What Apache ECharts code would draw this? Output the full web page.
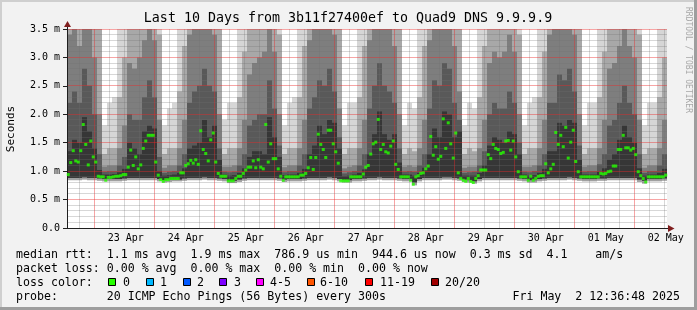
<!DOCTYPE html>
<html><head><meta charset="utf-8">
<script src="https://cdn.jsdelivr.net/npm/echarts@6/dist/echarts.min.js"></script>
<style>html,body{margin:0;padding:0;background:#f2f2f2}#c{width:697px;height:310px}</style>
</head><body><div id="c"></div>
<script>
// ---- data ----
const startHour = 13; // first hourly slot starts 22 Apr 13:00
const dayLabels = ['22 Apr','23 Apr','24 Apr','25 Apr','26 Apr','27 Apr','28 Apr','29 Apr','30 Apr','01 May','02 May'];

// median rtt (ms), one value per hour (240)
const median = [
0.94,1.15,1.36,1.18,1.16,1.36,1.82,1.47,1.11,1.53,
1.25,1.16,0.91,0.90,0.90,0.84,0.89,0.89,0.90,0.91,
0.91,0.92,0.94,0.94,1.07,1.37,1.10,1.25,1.04,1.11,
1.40,1.53,1.63,1.63,1.63,1.16,0.93,0.85,0.82,0.85,
0.85,0.87,0.87,0.87,0.87,0.97,0.97,1.10,1.13,1.19,
1.14,1.20,1.12,1.71,1.38,1.31,1.18,1.55,1.67,1.16,
0.96,0.91,0.91,0.91,0.83,0.83,0.83,0.87,0.91,0.91,
0.96,1.02,1.07,1.07,1.18,1.06,1.20,1.07,1.04,1.82,
1.16,1.48,1.22,1.22,1.04,0.91,0.84,0.90,0.90,0.90,
0.90,0.90,0.90,0.93,0.93,0.96,1.06,1.24,1.03,1.24,
1.65,1.47,1.38,1.24,1.72,1.72,1.48,1.34,1.14,0.83,
0.83,0.83,0.83,0.90,0.90,0.90,0.90,0.90,0.95,1.07,
1.10,1.30,1.48,1.51,1.91,1.38,1.47,1.34,1.32,1.44,
1.53,1.12,1.03,0.90,0.90,0.90,0.90,0.84,0.77,0.90,
0.92,0.96,0.97,1.04,1.09,1.61,1.28,1.43,1.21,1.26,
1.92,1.40,1.85,1.48,1.23,1.67,0.97,0.87,0.84,0.82,
0.87,0.82,0.80,0.87,0.92,1.02,1.02,1.02,1.29,1.22,
1.47,1.40,1.38,1.31,1.33,1.53,1.54,1.37,1.53,1.25,
0.99,0.90,0.90,0.90,0.84,0.91,0.84,0.87,0.91,0.92,
0.92,1.13,0.97,1.04,1.12,1.68,1.47,1.63,1.43,1.77,
1.23,1.51,1.72,1.17,0.99,0.90,0.90,0.90,0.90,0.90,
0.90,0.90,0.90,0.96,0.95,0.96,0.99,1.00,1.09,1.09,
1.38,1.38,1.63,1.41,1.41,1.37,1.40,1.29,0.99,0.92,
0.87,0.81,0.90,0.90,0.90,0.90,0.90,0.90,0.90,0.93
];

// smoke (ping distribution), one column per 2 hours (120)
const smokeMin = [
.84,.84,.84,.85,.84,.84,.83,.82,.82,.82,.82,.83,
.84,.84,.84,.84,.84,.84,.82,.80,.81,.82,.82,.83,
.84,.84,.84,.85,.84,.84,.83,.82,.79,.79,.81,.83,
.84,.84,.84,.84,.84,.84,.83,.81,.82,.82,.82,.83,
.84,.84,.84,.84,.85,.84,.82,.80,.80,.82,.82,.83,
.84,.84,.85,.84,.84,.84,.83,.82,.82,.75,.82,.84,
.84,.84,.84,.85,.85,.84,.83,.81,.80,.78,.82,.84,
.84,.84,.84,.84,.84,.84,.83,.82,.80,.80,.82,.83,
.84,.84,.84,.84,.85,.84,.83,.82,.82,.82,.83,.83,
.84,.84,.84,.84,.84,.84,.81,.78,.82,.82,.82,.83
];
const smokeLowMid = [
.88,.88,.88,.89,.88,.88,.87,.86,.86,.86,.86,.87,
.88,.88,.88,.88,.88,.88,.86,.84,.85,.85,.85,.87,
.88,.88,.88,.89,.88,.88,.87,.86,.83,.83,.85,.87,
.88,.88,.88,.88,.88,.88,.87,.85,.86,.86,.86,.87,
.88,.88,.88,.88,.89,.88,.86,.84,.84,.86,.86,.87,
.88,.88,.89,.88,.88,.88,.87,.86,.86,.80,.86,.88,
.88,.88,.88,.89,.89,.88,.87,.85,.84,.82,.86,.88,
.88,.88,.88,.88,.88,.88,.87,.86,.84,.84,.86,.87,
.88,.88,.88,.88,.89,.88,.87,.86,.86,.86,.87,.87,
.88,.88,.88,.88,.88,.88,.85,.83,.86,.86,.86,.87
];
const smokeQ1 = [
1.35,1.55,1.5,1.95,1.7,1.4,1.02,.94,.94,.95,.98,1.04,
1.5,1.4,1.3,1.7,1.8,1.75,1.0,.92,.93,.94,.97,1.05,
1.4,1.45,1.5,1.9,1.6,1.8,1.2,.94,.92,.93,.97,1.05,
1.25,1.35,1.35,1.3,1.95,1.6,1.25,.93,.94,.94,.97,1.04,
1.3,1.45,1.8,1.65,1.9,1.85,1.4,.91,.92,.94,.97,1.03,
1.3,1.65,2.05,1.65,1.55,1.65,1.15,.94,.94,.92,.97,1.06,
1.3,1.75,1.6,2.05,2.0,1.6,1.7,.92,.92,.92,.97,1.1,
1.45,1.6,1.55,1.5,1.7,1.65,1.3,.94,.92,.93,.97,1.04,
1.35,1.35,1.85,1.8,1.9,1.85,1.2,.94,.94,.94,.99,1.05,
1.2,1.3,1.55,1.8,1.6,1.5,1.05,.92,.94,.94,.97,1.04
];
const smokeQ2 = [
2.2,2.4,2.2,2.8,2.5,2.0,1.3,.99,1.0,1.0,1.1,1.25,
2.0,1.9,1.9,2.3,2.6,2.3,1.25,.97,.99,1.0,1.1,1.3,
2.2,2.4,2.5,2.8,2.5,2.4,1.4,.99,.98,.99,1.1,1.3,
1.8,1.9,2.0,2.0,2.6,2.1,1.45,.98,1.0,1.0,1.1,1.3,
2.1,2.3,2.6,2.5,2.8,2.4,1.6,.96,.98,1.0,1.1,1.3,
2.1,2.5,2.9,2.5,2.4,2.2,1.4,.99,1.0,.99,1.1,1.3,
2.1,2.6,2.5,2.9,2.8,2.2,1.9,.97,.98,.99,1.1,1.35,
2.0,2.2,2.1,2.1,2.4,2.2,1.5,.99,.98,1.0,1.1,1.3,
2.2,2.2,2.7,2.6,2.8,2.4,1.45,.99,1.0,1.0,1.12,1.3,
1.8,1.9,2.2,2.5,2.2,2.0,1.3,.97,1.0,1.0,1.1,1.3
];
const smokeQ3 = [
3.4,3.6,3.2,3.8,3.6,3.0,2.0,1.08,1.1,1.1,1.4,1.8,
2.9,2.8,3.0,3.3,3.7,3.3,1.9,1.06,1.1,1.1,1.4,1.9,
3.4,3.6,3.8,4.0,3.7,3.4,2.0,1.08,1.08,1.1,1.4,1.9,
2.7,2.9,3.0,3.1,3.6,3.1,2.0,1.07,1.1,1.1,1.4,1.9,
3.3,3.6,3.8,3.7,4.0,3.4,2.1,1.05,1.08,1.1,1.4,1.9,
3.3,3.7,4.0,3.7,3.6,3.2,2.0,1.08,1.1,1.08,1.4,1.9,
3.3,3.8,3.7,4.0,4.0,3.2,2.4,1.06,1.08,1.08,1.4,1.9,
2.9,3.1,3.0,3.1,3.4,3.1,2.0,1.08,1.08,1.1,1.4,1.9,
3.4,3.5,3.9,3.8,4.0,3.4,2.0,1.08,1.1,1.1,1.4,1.9,
2.8,2.9,3.2,3.5,3.2,3.0,1.9,1.06,1.1,1.1,1.4,1.9
];
const smokeQ4 = [
4.5,5,4.5,5,5,4.2,3.6,1.3,1.4,1.4,2.3,3.0,
4,3.8,4,4.5,5,4.5,3.4,1.3,1.4,1.4,2.4,3.2,
5,5,5,6,5,4.6,3.5,1.3,1.4,1.4,2.3,3.1,
3.8,4,4.2,4.4,5,4.3,3.4,1.3,1.4,1.4,2.3,3.2,
5,5,5,5,6,4.6,3.5,1.3,1.4,1.4,2.3,3.2,
5,5,6,5,5,4.5,3.5,1.3,1.4,1.35,2.3,3.2,
5,5,5,6,6,4.5,3.6,1.3,1.4,1.35,2.3,3.2,
4,4.3,4.2,4.4,4.8,4.3,3.4,1.3,1.4,1.4,2.3,3.1,
5,5,5,5,6,4.6,3.5,1.3,1.4,1.4,2.3,3.1,
4,4,4.5,4.8,4.5,4.2,3.4,1.3,1.4,1.4,2.3,3.0
];
const smokeQ5 = [
6,7,6,7,7,6,5,1.8,2.2,2.3,4.5,5,
6,6,6,6,7,6,5,1.8,2.1,2.2,4.5,5,
7,7,7,8,7,6,5,1.9,2.2,2.2,4.5,5,
6,6,6,6,7,6,5,1.8,2.2,2.3,4.5,5,
7,7,7,7,8,6,5,1.8,2.2,2.2,4.5,5,
7,7,8,7,7,6,5,1.8,2.2,2.1,4.5,5,
7,7,7,8,8,6,5,1.8,2.2,2.1,4.5,5,
6,6,6,6,6,6,5,1.8,2.2,2.3,4.5,5,
7,7,7,7,8,6,5,1.8,2.2,2.2,4.5,5,
6,6,6,6,6,6,5,1.8,2.2,2.2,4.5,5
];

const titleText = 'Last 10 Days from 3b11f27400ef to Quad9 DNS 9.9.9.9';
const legendRows = [
  'median rtt:  1.1 ms avg  1.9 ms max  786.9 us min  944.6 us now  0.3 ms sd  4.1    am/s',
  'packet loss: 0.00 % avg  0.00 % max  0.00 % min  0.00 % now',
  'loss color:',
  'probe:       20 ICMP Echo Pings (56 Bytes) every 300s'
];
const lossLabels = ['0','1','2','3','4-5','6-10','11-19','20/20'];
const lossColors = ['#26ff00','#00b8ff','#0059ff','#7e00ff','#ff00ff','#ff5500','#ff0000','#a10000'];
const timestampText = 'Fri May  2 12:36:48 2025';

// ---- chart ----
const FONT = '"DejaVu Sans Mono", monospace';
const hourCats = median.map((_, i) => i);
const slotCats = smokeMin.map((_, i) => i);
const yMajor = [0.5, 1, 1.5, 2, 2.5, 3, 3.5];
const yMinor = [];
for (let k = 1; k < 35; k++) if (k % 5 !== 0) yMinor.push(k / 10);
// vertical grid positions: every 6 hours (minor) and midnight (major)
const vGrid = hourCats.filter(i => (startHour + i) % 6 === 0)
  .map(i => [i, (startHour + i) % 24 === 0 ? 1 : 0]);
const lossSquareX = [108, 146, 183, 219, 256, 307, 365, 431];
const lossTextX = [123, 160, 197, 234, 270, 320, 380, 445];

const MINOR = 'rgba(110,110,110,0.28)';
const MAJOR = 'rgba(235,40,40,0.42)';

function barSeries(name, data, color) {
  return {
    name, type: 'bar', data, xAxisIndex: 1, yAxisIndex: 0,
    barGap: '-100%', barCategoryGap: '0%', clip: true, silent: true,
    itemStyle: { color }, z: 2
  };
}

const graphics = [
  { type: 'rect', shape: { x: 0, y: 0, width: 697, height: 2 }, style: { fill: '#cfcfcf' }, silent: true },
  { type: 'rect', shape: { x: 0, y: 0, width: 2, height: 310 }, style: { fill: '#cfcfcf' }, silent: true },
  { type: 'rect', shape: { x: 0, y: 307, width: 697, height: 3 }, style: { fill: '#9e9e9e' }, silent: true },
  { type: 'rect', shape: { x: 694, y: 0, width: 3, height: 310 }, style: { fill: '#9e9e9e' }, silent: true },
  { type: 'text', x: 348, y: 19, style: { text: titleText, font: '13.3px ' + FONT, fill: '#000', textAlign: 'center', textVerticalAlign: 'middle' } },
  { type: 'text', x: 688, y: 60, rotation: -Math.PI / 2, style: { text: 'RRDTOOL / TOBI OETIKER', font: '8px ' + FONT, fill: '#a8a8a8', textAlign: 'center', textVerticalAlign: 'middle' } },
  { type: 'text', x: 11, y: 129, rotation: Math.PI / 2, style: { text: 'Seconds', font: '11px ' + FONT, fill: '#000', textAlign: 'center', textVerticalAlign: 'middle' } },
  { type: 'line', shape: { x1: 67.5, y1: 24, x2: 67.5, y2: 29 }, style: { stroke: '#1f1f1f', lineWidth: 1 }, z: 20 },
  { type: 'polygon', shape: { points: [[64, 27], [71, 27], [67.5, 21]] }, style: { fill: '#801f1f' }, z: 20 },
  { type: 'line', shape: { x1: 666, y1: 228.5, x2: 669, y2: 228.5 }, style: { stroke: '#1f1f1f', lineWidth: 1 }, z: 20 },
  { type: 'polygon', shape: { points: [[668, 225], [668, 232], [674.5, 228.5]] }, style: { fill: '#801f1f' }, z: 20 }
];
const rowY = [255, 269, 283, 297];
legendRows.forEach((t, k) => {
  graphics.push({ type: 'text', x: 16, y: rowY[k], style: { text: t, font: '11.6px ' + FONT, fill: '#000', textAlign: 'left', textVerticalAlign: 'middle' } });
});
lossLabels.forEach((t, k) => {
  graphics.push({ type: 'rect', shape: { x: lossSquareX[k] + 0.5, y: 278.5, width: 7, height: 7 }, style: { fill: lossColors[k], stroke: '#000', lineWidth: 1 } });
  graphics.push({ type: 'text', x: lossTextX[k], y: 283, style: { text: t, font: '11.6px ' + FONT, fill: '#000', textAlign: 'left', textVerticalAlign: 'middle' } });
});
graphics.push({ type: 'text', x: 680, y: 297, style: { text: timestampText, font: '11.6px ' + FONT, fill: '#000', textAlign: 'right', textVerticalAlign: 'middle' } });

function gridLine(x1, y1, x2, y2, color) {
  return { type: 'line', shape: { x1, y1, x2, y2 }, style: { stroke: color, lineWidth: 1 } };
}

const option = {
  animation: false,
  backgroundColor: '#f2f2f2',
  grid: { left: 67, right: 30, top: 29, bottom: 82, show: true, backgroundColor: '#ffffff', borderWidth: 0 },
  xAxis: [
    {
      type: 'category', data: hourCats, position: 'bottom', boundaryGap: true, z: 10,
      axisLine: { show: true, lineStyle: { color: '#1f1f1f', width: 1 } },
      axisTick: { show: false },
      axisLabel: {
        interval: (i) => (startHour + i) % 24 === 12,
        formatter: (v) => dayLabels[Math.floor((startHour + Number(v)) / 24)],
        fontFamily: FONT, fontSize: 10, color: '#000', margin: 5
      },
      splitLine: { show: false }
    },
    { type: 'category', data: slotCats, show: false, position: 'bottom', boundaryGap: true }
  ],
  yAxis: {
    type: 'value', min: 0, max: 3.5, interval: 0.5, z: 10,
    axisLine: { show: true, lineStyle: { color: '#1f1f1f', width: 1 } },
    axisTick: { show: true, length: 4, lineStyle: { color: '#1f1f1f' } },
    axisLabel: {
      formatter: (v) => v === 0 ? '0.0' : v.toFixed(1) + ' m',
      fontFamily: FONT, fontSize: 10, color: '#000', margin: 7
    },
    splitLine: { show: false }
  },
  graphic: graphics,
  series: [
    barSeries('q5', smokeQ5, '#d6d6d6'),
    barSeries('q4', smokeQ4, '#a8a8a8'),
    barSeries('q3', smokeQ3, '#7e7e7e'),
    barSeries('q2', smokeQ2, '#595959'),
    barSeries('q1', smokeQ1, '#363636'),
    barSeries('lowmid', smokeLowMid, '#a0a0a0'),
    barSeries('min', smokeMin, '#ffffff'),
    {
      name: 'vgrid', type: 'custom', data: vGrid, xAxisIndex: 0, yAxisIndex: 0,
      silent: true, z: 11, clip: false,
      renderItem: (params, api) => {
        const i = api.value(0);
        const major = api.value(1) === 1;
        const x0 = api.coord([i, 0])[0] - api.size([1, 0])[0] / 2;
        const x = Math.floor(x0) + 0.5;
        const cs = params.coordSys;
        return gridLine(x, cs.y, x, cs.y + cs.height, major ? MAJOR : MINOR);
      }
    },
    {
      name: 'hgrid', type: 'custom', xAxisIndex: 0, yAxisIndex: 0,
      data: yMinor.map(v => [0, v, 0]).concat(yMajor.map(v => [0, v, 1])),
      silent: true, z: 11, clip: false,
      renderItem: (params, api) => {
        const v = api.value(1);
        const major = api.value(2) === 1;
        const y = Math.floor(api.coord([0, v])[1]) + 0.5;
        const cs = params.coordSys;
        return gridLine(cs.x + 1, y, cs.x + cs.width, y, major ? MAJOR : MINOR);
      }
    },
    {
      name: 'median', type: 'scatter', data: median, xAxisIndex: 0, yAxisIndex: 0,
      symbol: 'rect', symbolSize: [3, 3], silent: true,
      itemStyle: { color: '#26ff00' }, z: 12
    }
  ]
};
const chart = echarts.init(document.getElementById('c'), null, { renderer: 'canvas' });
chart.setOption(option);
</script>
</body></html>
